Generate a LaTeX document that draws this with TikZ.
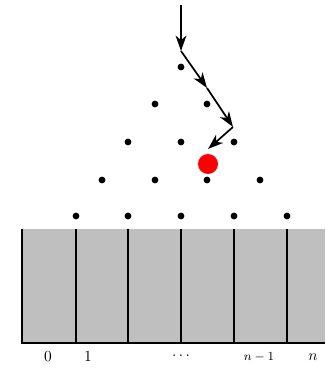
\documentclass[tikz,border=0pt]{standalone}
\usetikzlibrary{arrows.meta}
\begin{document}
\begin{tikzpicture}[x=0.65pt,y=-0.65pt,
  peg/.style={circle,fill=black,inner sep=0pt,minimum size=4.4pt},
  ball/.style={circle,fill=red,inner sep=0pt,minimum size=13pt},
  route/.style={line width=1.1pt,-{Stealth[length=10pt,width=7pt,inset=3pt]}},
  wall/.style={line width=1.3pt},
  lab/.style={inner sep=0pt}]
\useasboundingbox (0,0) rectangle (325,373);
% bins
\fill[gray!50] (22,229) rectangle (325,343);
\coordinate (b0) at (22,229);
\coordinate (b0b) at (22,343);
\coordinate (bend) at (325,343);
\draw[wall] (b0) -- (b0b) -- (bend);
\foreach \x [count=\i] in {76,128,181,234,287}{
  \coordinate (w\i t) at (\x,229);
  \coordinate (w\i b) at (\x,343);
  \draw[wall] (w\i t) -- (w\i b);
}
% pegs
\node[peg] (p11) at (181,67) {};
\node[peg] (p21) at (155,104) {};
\node[peg] (p22) at (207,104) {};
\node[peg] (p31) at (128,142) {};
\node[peg] (p32) at (181,142) {};
\node[peg] (p33) at (234,142) {};
\node[peg] (p41) at (102,180) {};
\node[peg] (p42) at (155,180) {};
\node[peg] (p43) at (207,180) {};
\node[peg] (p44) at (260,180) {};
\node[peg] (p51) at (76,216) {};
\node[peg] (p52) at (128,216) {};
\node[peg] (p53) at (181,216) {};
\node[peg] (p54) at (234,216) {};
\node[peg] (p55) at (287,216) {};
% ball
\node[ball] (ball) at (208,164) {};
% route
\coordinate (r0) at (181,5);
\coordinate (r1) at (181,51);
\coordinate (r2) at (207,88);
\coordinate (r3) at (233,127);
\coordinate (r4) at (208,149);
\draw[route] (r0) -- (r1);
\draw[route] (r1) -- (r2);
\draw[route] (r2) -- (r3);
\draw[route] (r3) -- (r4);
% labels
\node[lab] (l0) at (48,357) {$0$};
\node[lab] (l1) at (88,357) {$1$};
\node[lab] (ld) at (181,356) {$\cdots$};
\node[lab] (ln1) at (259,357) {\footnotesize$n - 1$};
\node[lab] (ln) at (313,357) {$n$};
\end{tikzpicture}
\end{document}
